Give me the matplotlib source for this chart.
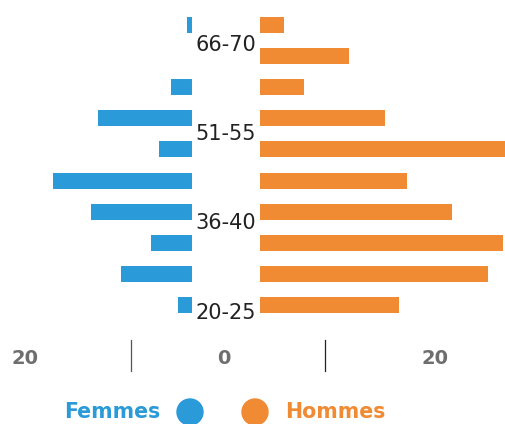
import numpy as np
import matplotlib
matplotlib.use("Agg")
import matplotlib.pyplot as plt
from matplotlib.patches import Circle
from matplotlib.lines import Line2D

plt.rcParams['font.family'] = ['DejaVu Sans']

# data, bottom to top
ages = ['20-25', '26-30', '31-35', '36-40', '41-45',
        '46-50', '51-55', '56-60', '61-65', '66-70']
femmes = [1.6, 8.4, 4.8, 11.9, 16.4, 3.9, 11.1, 2.5, 0.0, 0.6]
hommes = [16.4, 26.8, 28.6, 22.6, 17.3, 29.2, 14.7, 5.2, 10.5, 2.8]
shown_labels = ['20-25', '36-40', '51-55', '66-70']
label_pos = [-0.25, 2.64, 5.5, 8.36]
axis_labels = ['20', '0', '20']

blue = '#2a9ad8'
orange = '#f08a33'
grey = '#6e6e6e'

W, H = 505, 424
fig = plt.figure(figsize=(W / 100, H / 100), dpi=100)


def box(x0, y0, x1, y1):
    # pixel box (top-left origin) -> figure fraction
    return [x0 / W, 1 - y1 / H, (x1 - x0) / W, (y1 - y0) / H]


px_per_unit = 8.5
y = np.arange(len(ages))

axL = fig.add_axes(box(0, 9.5, 192, 320.5))
axL.barh(y, femmes, height=0.515, color=blue)
axL.set_xlim(192 / px_per_unit, 0)
axL.set_ylim(-0.5, len(ages) - 0.5)

axR = fig.add_axes(box(260, 9.5, 505, 320.5))
axR.barh(y, hommes, height=0.515, color=orange)
axR.set_xlim(0, 245 / px_per_unit)
axR.set_ylim(-0.5, len(ages) - 0.5)

for ax in (axL, axR):
    ax.axis('off')

# age labels in the gap between the two halves
for lab, pos in zip(shown_labels, label_pos):
    axL.annotate(lab, xy=(0, pos), xycoords='data', xytext=(24.5, 0),
                 textcoords='offset points', ha='center', va='center',
                 fontsize=15, color='#222222', annotation_clip=False)

# bottom scale
over = fig.add_axes([0, 0, 1, 1])
over.set_xlim(0, W)
over.set_ylim(H, 0)
over.axis('off')
for lab, xp in zip(axis_labels, [25, 224, 435]):
    over.text(xp, 358, lab, ha='center', va='center', fontsize=14,
              fontweight='bold', color=grey)
over.add_line(Line2D([131, 131], [340, 371], color='#555555', lw=0.9))
over.add_line(Line2D([325, 325], [340, 371], color='#222222', lw=0.9))

# legend
over.text(112, 412, 'Femmes', ha='center', va='center', fontsize=14.8,
          fontweight='bold', color=blue)
over.add_patch(Circle((190, 412), 13, color=blue))
over.add_patch(Circle((255, 412), 13, color=orange))
over.text(335.5, 412, 'Hommes', ha='center', va='center', fontsize=14.8,
          fontweight='bold', color=orange)

fig.savefig('out.png', dpi=100)
